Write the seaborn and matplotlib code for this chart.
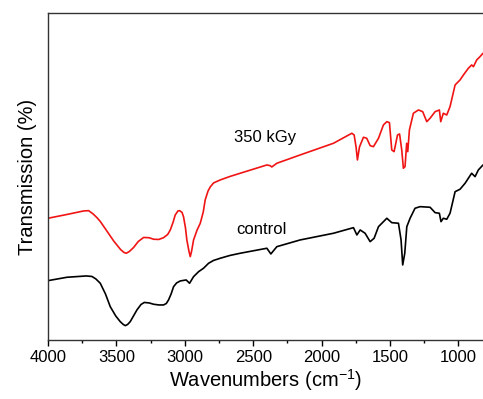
import matplotlib
matplotlib.use("Agg")
import matplotlib.pyplot as plt
import seaborn as sns
import pandas as pd
from matplotlib.ticker import MultipleLocator

# FTIR spectra (transmission in arbitrary units)
red_wn = [4000, 3861, 3740, 3703, 3670, 3640, 3618, 3570, 3520, 3470, 3445, 3428, 3405,
          3374, 3340, 3301, 3260, 3228, 3190, 3155, 3125, 3106, 3085, 3070, 3050, 3038,
          3020, 3009, 2995, 2985, 2970, 2960, 2950, 2936, 2910, 2887, 2865, 2851, 2830,
          2814, 2790, 2741, 2670, 2595, 2400, 2376, 2364, 2327,
          2157, 1913, 1779, 1762, 1748, 1738, 1723, 1694, 1670, 1645, 1621, 1584, 1548,
          1523, 1504, 1487, 1470, 1445, 1430, 1414, 1402, 1390, 1378, 1370, 1358, 1329,
          1292, 1261, 1231, 1207, 1170, 1139, 1129, 1110, 1085, 1061, 1024, 988, 963,
          927, 903, 890, 866, 842, 820]
red_t = [121.7, 125.5, 129, 129.3, 126, 122, 118.5, 109, 99, 90.5, 87.5, 86.7, 88.5,
         92.5, 98.5, 102.5, 102.2, 100.7, 100.5, 102.3, 105.5, 110, 118, 125, 129, 129.3,
         127.5, 123, 112, 100, 89, 83.3, 89, 100, 110, 116.7, 128, 140, 149,
         153, 157, 160, 163.5, 166.7, 175, 174.3, 173, 176.7,
         185, 196.7, 206.7, 205, 193, 180, 193, 202.7, 201.7, 194.3, 193.3, 201.7, 215,
         218.3, 217.3, 190, 188.3, 205, 206, 190, 171.7, 173.3, 196.7, 188.3, 210, 226.7,
         230, 228.3, 218.3, 221.7, 228.3, 230, 218.3, 226.7, 225, 233.3, 255, 260, 265,
         271.7, 275, 273.3, 280, 283.3, 286.7]

ctrl_wn = [4000, 3861, 3720, 3679, 3650, 3618, 3580, 3545, 3505, 3472, 3450, 3435, 3418,
           3399, 3375, 3350, 3320, 3296, 3260, 3228, 3190, 3155, 3135, 3119, 3100,
           3082, 3060, 3033, 2990, 2965, 2936, 2899, 2863, 2826, 2790, 2741, 2670, 2595,
           2400, 2371, 2327,
           2157, 1913, 1767, 1742, 1718, 1682, 1645, 1616, 1584, 1523, 1487, 1438, 1419,
           1407, 1392, 1377, 1353, 1317, 1280, 1207, 1170, 1139, 1127, 1110, 1085, 1061,
           1024, 988, 951, 903, 878, 854, 820]
ctrl_t = [59.3, 62.7, 64, 63.5, 61, 56.7, 46, 33.3, 24, 18.3, 15.5, 14.3, 15.5,
          18.3, 24, 30, 35.5, 37.5, 37, 35.7, 35, 35, 36.5, 40, 46,
          53.3, 57, 59, 60, 56.7, 63.3, 68.3, 71.7, 76.7, 79.5, 81.7, 84.5, 86.7,
          91.7, 86, 93.3,
          100, 106.7, 112.3, 105, 110, 106.7, 98.3, 101.7, 113.3, 121.7, 117.3, 116.7, 100,
          75, 86.7, 113.3, 121.7, 131.7, 133.3, 132.7, 127.3, 126.7, 118.3, 121.7, 120.7, 126.7,
          148.3, 150.7, 156.7, 166.7, 163.3, 170, 175]

red = pd.DataFrame({"wn": red_wn, "t": red_t})
ctrl = pd.DataFrame({"wn": ctrl_wn, "t": ctrl_t})

sns.set_style("white")
plt.rcParams["font.family"] = ["Liberation Sans", "DejaVu Sans"]
plt.rcParams["mathtext.default"] = "regular"
plt.rcParams["text.color"] = "black"
plt.rcParams["axes.labelcolor"] = "black"
plt.rcParams["xtick.color"] = "black"

fig = plt.figure(figsize=(4.83, 3.99), dpi=100)
ax = fig.add_axes([0.0994, 0.148, 0.9006, 0.8195])

sns.lineplot(data=red, x="wn", y="t", color="#f01414", linewidth=1.2, ax=ax)
sns.lineplot(data=ctrl, x="wn", y="t", color="black", linewidth=1.2, ax=ax)

ax.text(2412, 202, "350 kGy", fontsize=12, ha="center", va="center")
ax.text(2442, 110, "control", fontsize=12, ha="center", va="center")

ax.set_xlim(4000, 820)
ax.set_ylim(0, 327)
ax.xaxis.set_major_locator(MultipleLocator(500))
ax.xaxis.set_minor_locator(MultipleLocator(250))
ax.tick_params(axis="x", which="major", direction="out", length=4, width=1,
               labelsize=12, bottom=True, pad=3)
ax.tick_params(axis="x", which="minor", direction="out", length=2.5, width=1, bottom=True)
ax.set_yticks([])
ax.spines["right"].set_visible(False)
for s in ["left", "top", "bottom"]:
    ax.spines[s].set_color("#333333")
    ax.spines[s].set_linewidth(1)

ax.set_xlabel("Wavenumbers (cm$^{-1}$)", fontsize=14.5, labelpad=2)
ax.set_ylabel("Transmission (%)", fontsize=14.5, labelpad=8)

fig.savefig("out.png", dpi=100)
